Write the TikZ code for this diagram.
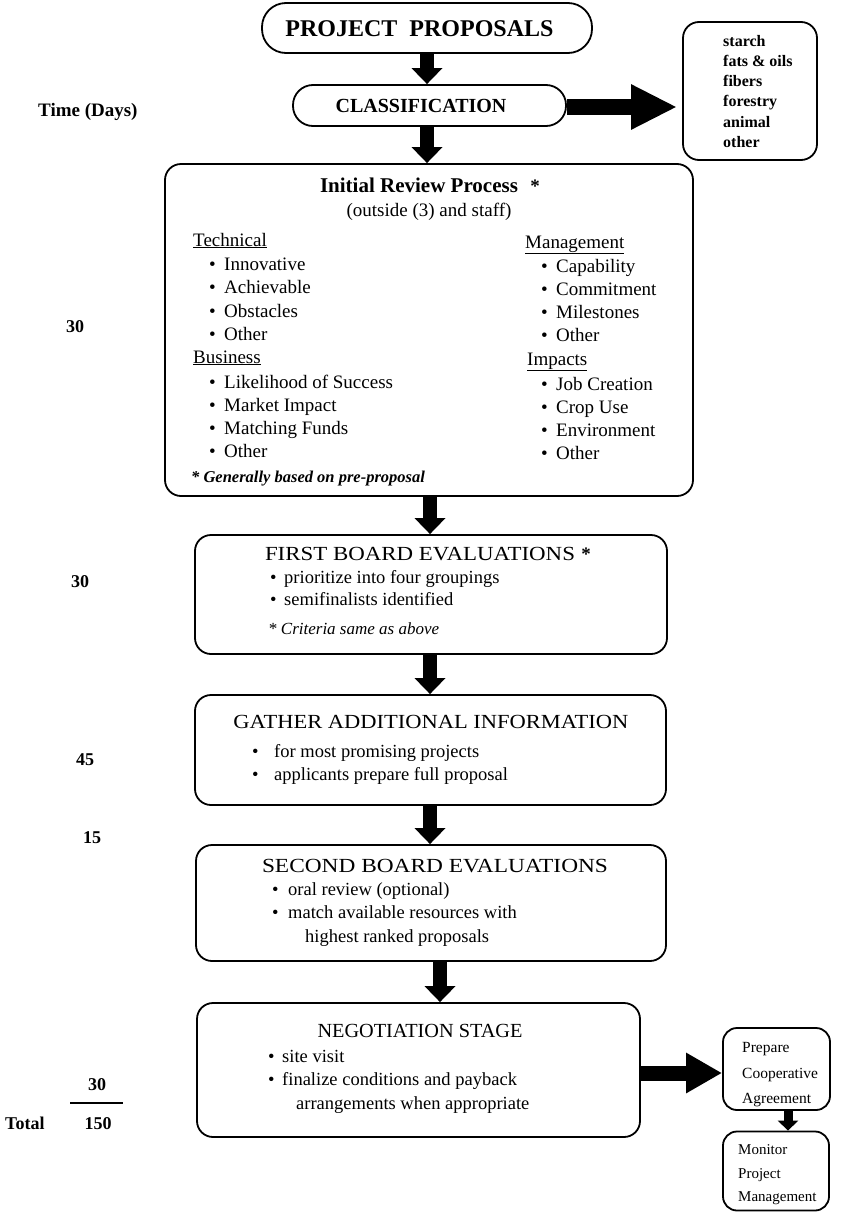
\documentclass[tikz,border=0pt]{standalone}
\usepackage{fontspec}
\setmainfont{Liberation Serif}
\usepackage{graphicx}
\usetikzlibrary{arrows.meta}
\newcommand\hfit[2]{\setbox0\hbox{#2}\pgfmathsetmacro\hfitsx{#1/\the\wd0}\scalebox{\hfitsx}[1]{\box0}}
\newcommand\fs[1]{\fontsize{#1}{#1}\selectfont}
\tikzset{
  box/.style={draw, line width=1.8pt, rounded corners=16pt, inner sep=0pt},
  lbl/.style={anchor=base west, inner sep=0pt},
  ctr/.style={anchor=base, inner sep=0pt},
  body/.style={font=\fs{18.5}},
  irb/.style={font=\fs{19}},
  down/.style={line width=14pt, -{Triangle[width=30pt,length=16pt]}},
  side/.style={line width=16pt, -{Triangle[width=42pt,length=46pt]}},
  smallarrow/.style={line width=9pt, -{Triangle[width=20pt,length=10pt]}},
  num/.style={anchor=base, inner sep=0pt, font=\fs{18}\bfseries},
}
\begin{document}
\begin{tikzpicture}[x=1pt,y=-1pt]
\useasboundingbox (0,0) rectangle (861,1213);
% boxes
\node[box, rounded corners=24pt, minimum width=330pt, minimum height=50pt] (pp) at (427,28) {};
\node[box, rounded corners=20pt, minimum width=273pt, minimum height=41pt] (cls) at (429.5,105.5) {};
\node[box, minimum width=134pt, minimum height=138pt] (cat) at (750,91) {};
\node[box, minimum width=528pt, minimum height=332pt] (ir) at (429,330) {};
\node[box, minimum width=472pt, minimum height=119pt] (fb) at (431,594.5) {};
\node[box, minimum width=471pt, minimum height=110pt] (ga) at (430.5,750) {};
\node[box, minimum width=470pt, minimum height=116pt] (sb) at (431,903) {};
\node[box, minimum width=443pt, minimum height=134pt] (ng) at (418.5,1070) {};
\node[box, rounded corners=14pt, minimum width=107pt, minimum height=82pt] (pr) at (776.5,1069) {};
\node[box, rounded corners=14pt, minimum width=106pt, minimum height=79pt] (mo) at (776,1171) {};
% guide coordinates
\coordinate (ax1) at (427,0);
\coordinate (ax2) at (430,0);
\coordinate (ax3) at (440,0);
\coordinate (ax4) at (788,0);
\coordinate (ay1) at (0,107);
\coordinate (ay2) at (0,1073);
% arrows
\draw[down] (pp.south -| ax1) -- (cls.north -| ax1);
\draw[down] (cls.south -| ax1) -- (ir.north -| ax1);
\draw[down] (ir.south -| ax2) -- (fb.north -| ax2);
\draw[down] (fb.south -| ax2) -- (ga.north -| ax2);
\draw[down] (ga.south -| ax2) -- (sb.north -| ax2);
\draw[down] (sb.south -| ax3) -- (ng.north -| ax3);
\draw[side] (cls.east |- ay1) -- ([xshift=-5pt]cat.west |- ay1);
\draw[side, line width=15pt, -{Triangle[width=38pt,length=36pt]}] (ng.east |- ay2) -- (pr.west |- ay2);
\draw[smallarrow] (pr.south -| ax4) -- (mo.north -| ax4);
% top
\node[anchor=center, inner sep=0pt, font=\fs{24}\bfseries] (tpp) at (419.5,29) {PROJECT\ \ PROPOSALS};
\node[anchor=center, inner sep=0pt, font=\fs{20}\bfseries] (tcls) at (421,106) {CLASSIFICATION};
\node[lbl, font=\fs{16}\bfseries] (c1) at (723,46) {starch};
\node[lbl, font=\fs{16}\bfseries] (c2) at (723,66) {fats \& oils};
\node[lbl, font=\fs{16}\bfseries] (c3) at (723,86) {fibers};
\node[lbl, font=\fs{16}\bfseries] (c4) at (723,106) {forestry};
\node[lbl, font=\fs{16}\bfseries] (c5) at (723,127) {animal};
\node[lbl, font=\fs{16}\bfseries] (c6) at (723,147) {other};
% left column
\node[lbl, font=\fs{19}\bfseries] (time) at (38,116) {Time (Days)};
\node[num] (n1) at (75,332) {30};
\node[num] (n2) at (80,587) {30};
\node[num] (n3) at (85,765) {45};
\node[num] (n4) at (92,843) {15};
\node[num] (n5) at (97,1090) {30};
\coordinate (sumL) at (70,1103);
\coordinate (sumR) at (123,1103);
\draw[line width=1.6pt] (sumL) -- (sumR);
\node[num] (n6) at (98,1129) {150};
\node[lbl, font=\fs{18}\bfseries] (total) at (5,1129) {Total};
% initial review
\node[ctr, font=\fs{21}\bfseries] (irt) at (419,192) {Initial Review Process};
\node[ctr, font=\fs{19}\bfseries] (irs) at (535,192) {*};
\node[ctr, irb] (iro) at (429,216) {(outside (3) and staff)};
\node[lbl, irb] (h1) at (193,246) {\underline{Technical}};
\node[lbl, irb] (b1) at (209,270) {\textbullet};
\node[lbl, irb] (i1) at (224,270) {Innovative};
\node[lbl, irb] (b2) at (209,293) {\textbullet};
\node[lbl, irb] (i2) at (224,293) {Achievable};
\node[lbl, irb] (b3) at (209,317) {\textbullet};
\node[lbl, irb] (i3) at (224,317) {Obstacles};
\node[lbl, irb] (b4) at (209,340) {\textbullet};
\node[lbl, irb] (i4) at (224,340) {Other};
\node[lbl, irb] (h2) at (193,363) {\underline{Business}};
\node[lbl, irb] (b5) at (209,388) {\textbullet};
\node[lbl, irb] (i5) at (224,388) {Likelihood of Success};
\node[lbl, irb] (b6) at (209,411) {\textbullet};
\node[lbl, irb] (i6) at (224,411) {Market Impact};
\node[lbl, irb] (b7) at (209,434) {\textbullet};
\node[lbl, irb] (i7) at (224,434) {Matching Funds};
\node[lbl, irb] (b8) at (209,457) {\textbullet};
\node[lbl, irb] (i8) at (224,457) {Other};
\node[lbl, font=\fs{16.5}\bfseries\itshape] (gen) at (191,482) {*\ Generally based on pre-proposal};
\node[lbl, irb] (h3) at (525,248) {\underline{Management}};
\node[lbl, irb] (b9) at (541,272) {\textbullet};
\node[lbl, irb] (i9) at (556,272) {Capability};
\node[lbl, irb] (b10) at (541,295) {\textbullet};
\node[lbl, irb] (i10) at (556,295) {Commitment};
\node[lbl, irb] (b11) at (541,318) {\textbullet};
\node[lbl, irb] (i11) at (556,318) {Milestones};
\node[lbl, irb] (b12) at (541,341) {\textbullet};
\node[lbl, irb] (i12) at (556,341) {Other};
\node[lbl, irb] (h4) at (527,365) {\underline{Impacts}};
\node[lbl, irb] (b13) at (541,390) {\textbullet};
\node[lbl, irb] (i13) at (556,390) {Job Creation};
\node[lbl, irb] (b14) at (541,413) {\textbullet};
\node[lbl, irb] (i14) at (556,413) {Crop Use};
\node[lbl, irb] (b15) at (541,436) {\textbullet};
\node[lbl, irb] (i15) at (556,436) {Environment};
\node[lbl, irb] (b16) at (541,459) {\textbullet};
\node[lbl, irb] (i16) at (556,459) {Other};
% first board
\node[ctr, font=\fs{20}] (fbt) at (420,560) {\hfit{310pt}{FIRST BOARD EVALUATIONS}};
\node[ctr, font=\fs{19}\bfseries] (fbs) at (586,560) {*};
\node[lbl, body] (fb1) at (270,583) {\textbullet};
\node[lbl, body] (fb2) at (284,583) {prioritize into four groupings};
\node[lbl, body] (fb3) at (270,605) {\textbullet};
\node[lbl, body] (fb4) at (284,605) {semifinalists identified};
\node[lbl, font=\fs{17}\itshape] (fb5) at (268,634) {*\ Criteria same as above};
% gather
\node[ctr, font=\fs{20}] (gat) at (431,728) {\hfit{395pt}{GATHER ADDITIONAL INFORMATION}};
\node[lbl, body] (ga1) at (252,757) {\textbullet};
\node[lbl, body] (ga2) at (274,757) {for most promising projects};
\node[lbl, body] (ga3) at (252,780) {\textbullet};
\node[lbl, body] (ga4) at (274,780) {applicants prepare full proposal};
% second
\node[ctr, font=\fs{20}] (sbt) at (435,872) {\hfit{346pt}{SECOND BOARD EVALUATIONS}};
\node[lbl, body] (sb1) at (272,895) {\textbullet};
\node[lbl, body] (sb2) at (288,895) {oral review (optional)};
\node[lbl, body] (sb3) at (272,918) {\textbullet};
\node[lbl, body] (sb4) at (288,918) {match available resources with};
\node[lbl, body] (sb5) at (305,942) {highest ranked proposals};
% negotiation
\node[ctr, font=\fs{20}] (ngt) at (420,1037) {\hfit{205pt}{NEGOTIATION STAGE}};
\node[lbl, body] (ng1) at (268,1062) {\textbullet};
\node[lbl, body] (ng2) at (282,1062) {site visit};
\node[lbl, body] (ng3) at (268,1085) {\textbullet};
\node[lbl, body] (ng4) at (282,1085) {finalize conditions and payback};
\node[lbl, body] (ng5) at (296,1109) {arrangements when appropriate};
% side boxes
\node[lbl, font=\fs{15.5}] (p1) at (742,1052) {Prepare};
\node[lbl, font=\fs{15.5}] (p2) at (742,1078) {Cooperative};
\node[lbl, font=\fs{15.5}] (p3) at (742,1103) {Agreement};
\node[lbl, font=\fs{15}] (m1) at (738,1154) {Monitor};
\node[lbl, font=\fs{15}] (m2) at (738,1178) {Project};
\node[lbl, font=\fs{15}] (m3) at (738,1201) {Management};
\end{tikzpicture}
\end{document}
